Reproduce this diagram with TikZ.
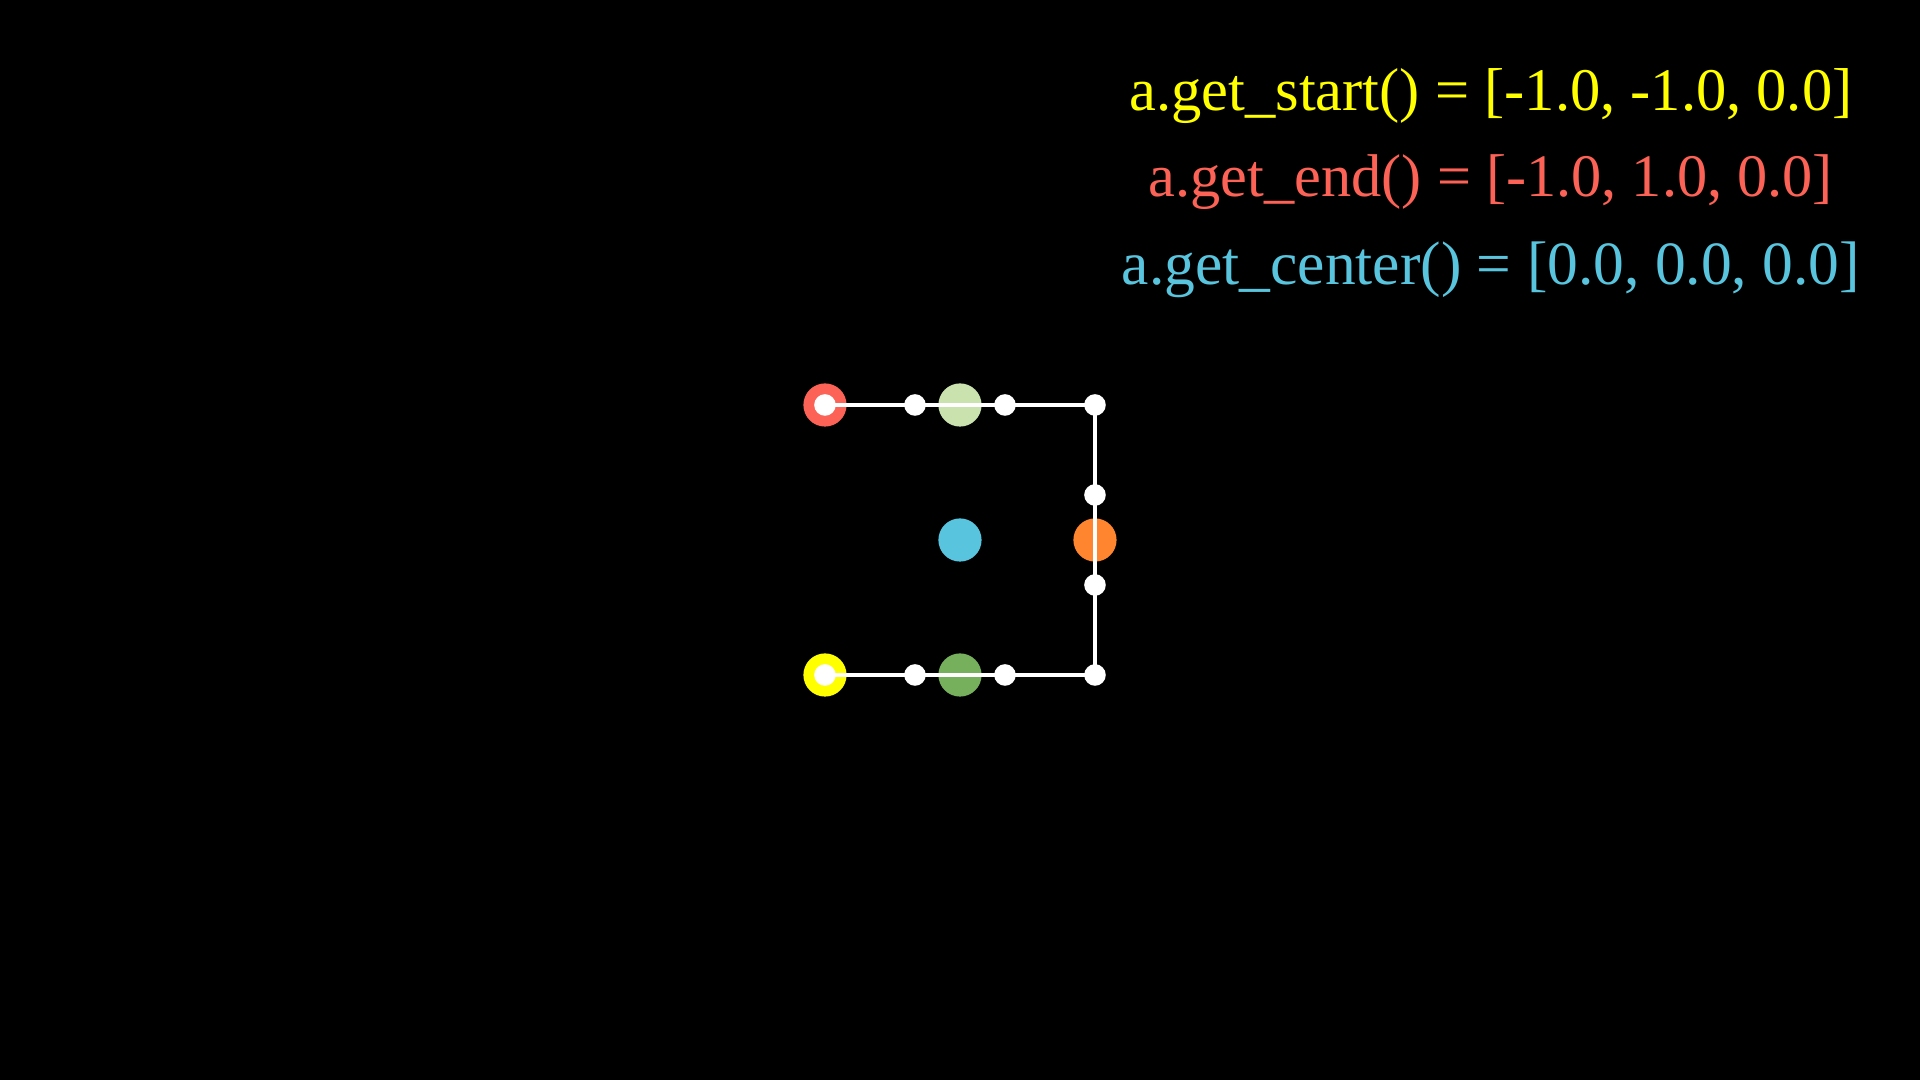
\documentclass[tikz,border=0pt]{standalone}
\usepackage{fontspec}
\setmainfont{Liberation Serif}
\usepackage{graphicx}
\definecolor{myyellow}{HTML}{FFFF00}
\definecolor{myred}{HTML}{FC6255}
\definecolor{myblue}{HTML}{58C4DD}
\definecolor{myorange}{HTML}{FF862F}
\definecolor{mylgreen}{HTML}{C9E2AE}
\definecolor{mygreen}{HTML}{77B05D}
\tikzset{
  bigdot/.style={circle, inner sep=0pt, minimum size=0.32cm},
  smalldot/.style={circle, fill=white, inner sep=0pt, minimum size=0.16cm},
  pathline/.style={draw=white, line width=0.843pt},
  label/.style={anchor=base, inner sep=0pt, font=\fontsize{12.65pt}{15pt}\selectfont}
}
\begin{document}
\begin{tikzpicture}[x=1cm,y=1cm]
\fill[black] (-7.1111,-4) rectangle (7.1111,4);
\useasboundingbox (-7.1111,-4) rectangle (7.1111,4);
% anchor points
\coordinate (p0) at (-1,-1);
\coordinate (p1) at (-1/3,-1);
\coordinate (p2) at (1/3,-1);
\coordinate (p3) at (1,-1);
\coordinate (p4) at (1,-1/3);
\coordinate (p5) at (1,1/3);
\coordinate (p6) at (1,1);
\coordinate (p7) at (1/3,1);
\coordinate (p8) at (-1/3,1);
\coordinate (p9) at (-1,1);
% big coloured dots
\node[bigdot, fill=myyellow] (start) at (p0) {};
\node[bigdot, fill=myred] (end) at (p9) {};
\node[bigdot, fill=myblue] (center) at (0,0) {};
\node[bigdot, fill=mygreen] (bot) at (0,-1) {};
\node[bigdot, fill=mylgreen] (top) at (0,1) {};
\node[bigdot, fill=myorange] (right) at (1,0) {};
% path
\draw[pathline] (p0) -- (p3) -- (p6) -- (p9);
% small white dots
\foreach \i in {0,...,9} {
  \node[smalldot] (w\i) at (p\i) {};
}
% labels
\node[label, text=myyellow] (lstart) at (3.933,3.185) {\resizebox{5.356cm}{!}{a.get\_start() = [-1.0, -1.0, 0.0]}};
\node[label, text=myred] (lend) at (3.933,2.541) {\resizebox{5.067cm}{!}{a.get\_end() = [-1.0, 1.0, 0.0]}};
\node[label, text=myblue] (lcenter) at (3.933,1.889) {\resizebox{5.467cm}{!}{a.get\_center() = [0.0, 0.0, 0.0]}};
\end{tikzpicture}
\end{document}
